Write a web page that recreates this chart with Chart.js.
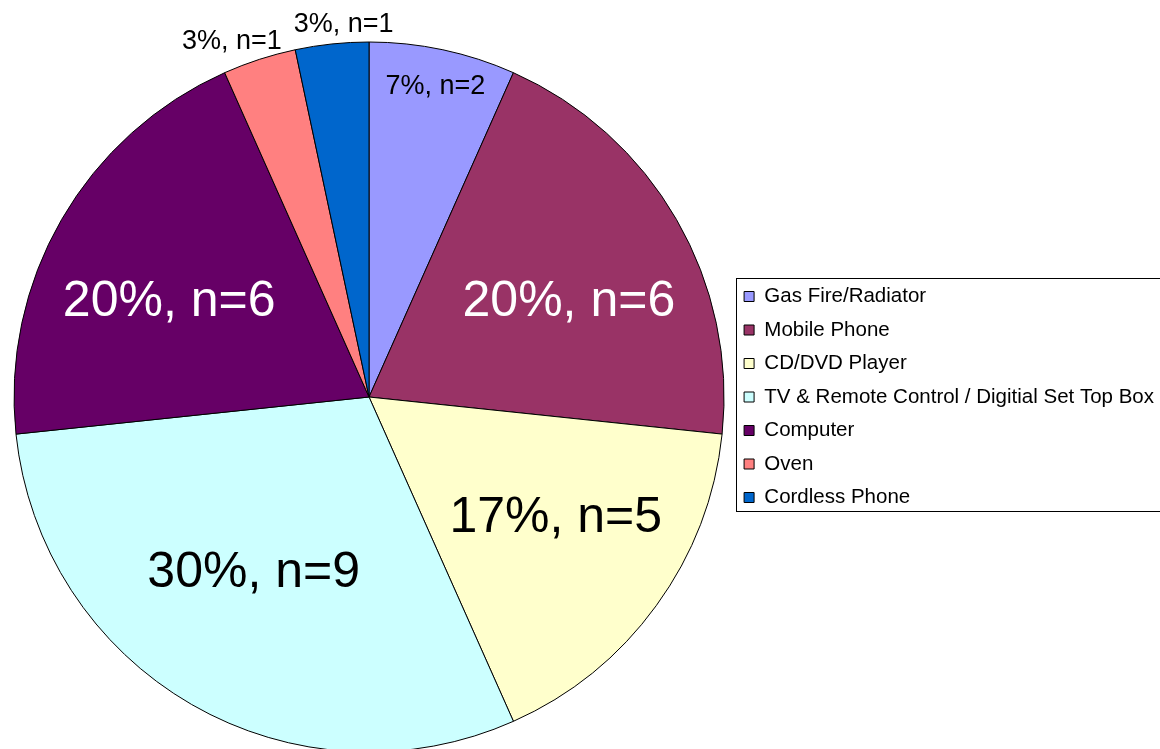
<!DOCTYPE html>
<html>
<head>
<meta charset="utf-8">
<title>Appliances</title>
<script src="https://cdn.jsdelivr.net/npm/chart.js@4.4.1/dist/chart.umd.min.js"></script>
<style>
  html, body { margin: 0; padding: 0; background: #fff; overflow: hidden; }
  #wrap { width: 1164px; height: 794px; }
</style>
</head>
<body>
<div id="wrap"><canvas id="pie" width="1164" height="794"></canvas></div>
<script>
const categories = [
  'Gas Fire/Radiator',
  'Mobile Phone',
  'CD/DVD Player',
  'TV & Remote Control / Digitial Set Top Box',
  'Computer',
  'Oven',
  'Cordless Phone'
];
const counts = [2, 6, 5, 9, 6, 1, 1];
const sliceColors = ['#9999FF', '#993366', '#FFFFCC', '#CCFFFF', '#660066', '#FF8080', '#0066CC'];

const FONT = 'Arial, "Liberation Sans", sans-serif';

// white text on dark slices, black on light ones
function textColorFor(hex) {
  const n = parseInt(hex.slice(1), 16);
  const r = (n >> 16) & 255, g = (n >> 8) & 255, b = n & 255;
  return (0.299 * r + 0.587 * g + 0.114 * b) < 128 ? '#fff' : '#000';
}

// "xx%, n=y" labels: big ones inside, mid-sized near the rim, tiny slices outside
const sliceLabels = {
  id: 'sliceLabels',
  afterDatasetsDraw(chart) {
    const ctx = chart.ctx;
    const meta = chart.getDatasetMeta(0);
    const data = chart.data.datasets[0].data;
    const total = data.reduce((a, b) => a + b, 0);
    const labels = [];

    meta.data.forEach((arc, i) => {
      const p = arc.getProps(['x', 'y', 'startAngle', 'endAngle', 'outerRadius'], true);
      const mid = (p.startAngle + p.endAngle) / 2;
      const share = data[i] / total;
      const text = Math.round(share * 100) + '%, n=' + data[i];
      const c = Math.cos(mid), s = Math.sin(mid);
      if (share >= 0.1) {
        labels.push({ text, size: 50, color: textColorFor(sliceColors[i]),
          x: p.x + c * p.outerRadius * 0.65, y: p.y + s * p.outerRadius * 0.56 });
      } else if (share >= 0.05) {
        labels.push({ text, size: 27, color: textColorFor(sliceColors[i]),
          x: p.x + c * p.outerRadius * 0.9, y: p.y + s * p.outerRadius * 0.9 });
      } else {
        labels.push({ text, size: 27, color: '#000', outside: true,
          x: p.x + c * p.outerRadius * 1.06, y: p.y + s * p.outerRadius * 1.06 });
      }
    });

    ctx.save();
    labels.forEach(l => {
      ctx.font = l.size + 'px ' + FONT;
      l.w = ctx.measureText(l.text).width;
    });

    // push overlapping outside labels apart
    const out = labels.filter(l => l.outside).sort((a, b) => a.x - b.x);
    for (let k = 1; k < out.length; k++) {
      const a = out[k - 1], b = out[k];
      const overlap = (a.x + a.w / 2) - (b.x - b.w / 2) + 12;
      if (overlap > 0) {
        a.x -= overlap * 0.6;
        b.x += overlap * 0.4;
      }
    }

    // baseline set so the digits sit centred on the anchor point
    ctx.textAlign = 'center';
    ctx.textBaseline = 'alphabetic';
    labels.forEach(l => {
      ctx.font = l.size + 'px ' + FONT;
      ctx.fillStyle = l.color;
      ctx.fillText(l.text, l.x, l.y + l.size * 0.358);
    });
    ctx.restore();
  }
};

// thin frame around the legend
const legendFrame = {
  id: 'legendFrame',
  afterDraw(chart) {
    const boxes = chart.legend && chart.legend.legendHitBoxes;
    if (!boxes || !boxes.length) return;
    const ctx = chart.ctx;
    const first = boxes[0], last = boxes[boxes.length - 1];
    const left = Math.min(...boxes.map(b => b.left)) - 8;
    const right = Math.max(...boxes.map(b => b.left + b.width)) + 10;
    const top = first.top - 8;
    const bottom = last.top + last.height + 3;
    ctx.save();
    ctx.strokeStyle = '#000';
    ctx.lineWidth = 1;
    ctx.strokeRect(Math.round(left) + 0.5, Math.round(top) + 0.5,
      Math.round(right - left), Math.round(bottom - top));
    ctx.restore();
  }
};

new Chart(document.getElementById('pie'), {
  type: 'pie',
  data: {
    labels: categories,
    datasets: [{
      data: counts,
      backgroundColor: sliceColors,
      borderColor: '#000',
      borderWidth: 1,
      clip: false
    }]
  },
  options: {
    responsive: false,
    animation: false,
    radius: 355,
    layout: { padding: { left: 7 } },
    plugins: {
      legend: {
        position: 'right',
        labels: {
          boxWidth: 10,
          boxHeight: 10,
          padding: 13,
          color: '#000',
          font: { family: FONT, size: 20.5 }
        }
      },
      tooltip: { enabled: false }
    }
  },
  plugins: [sliceLabels, legendFrame]
});
</script>
</body>
</html>
